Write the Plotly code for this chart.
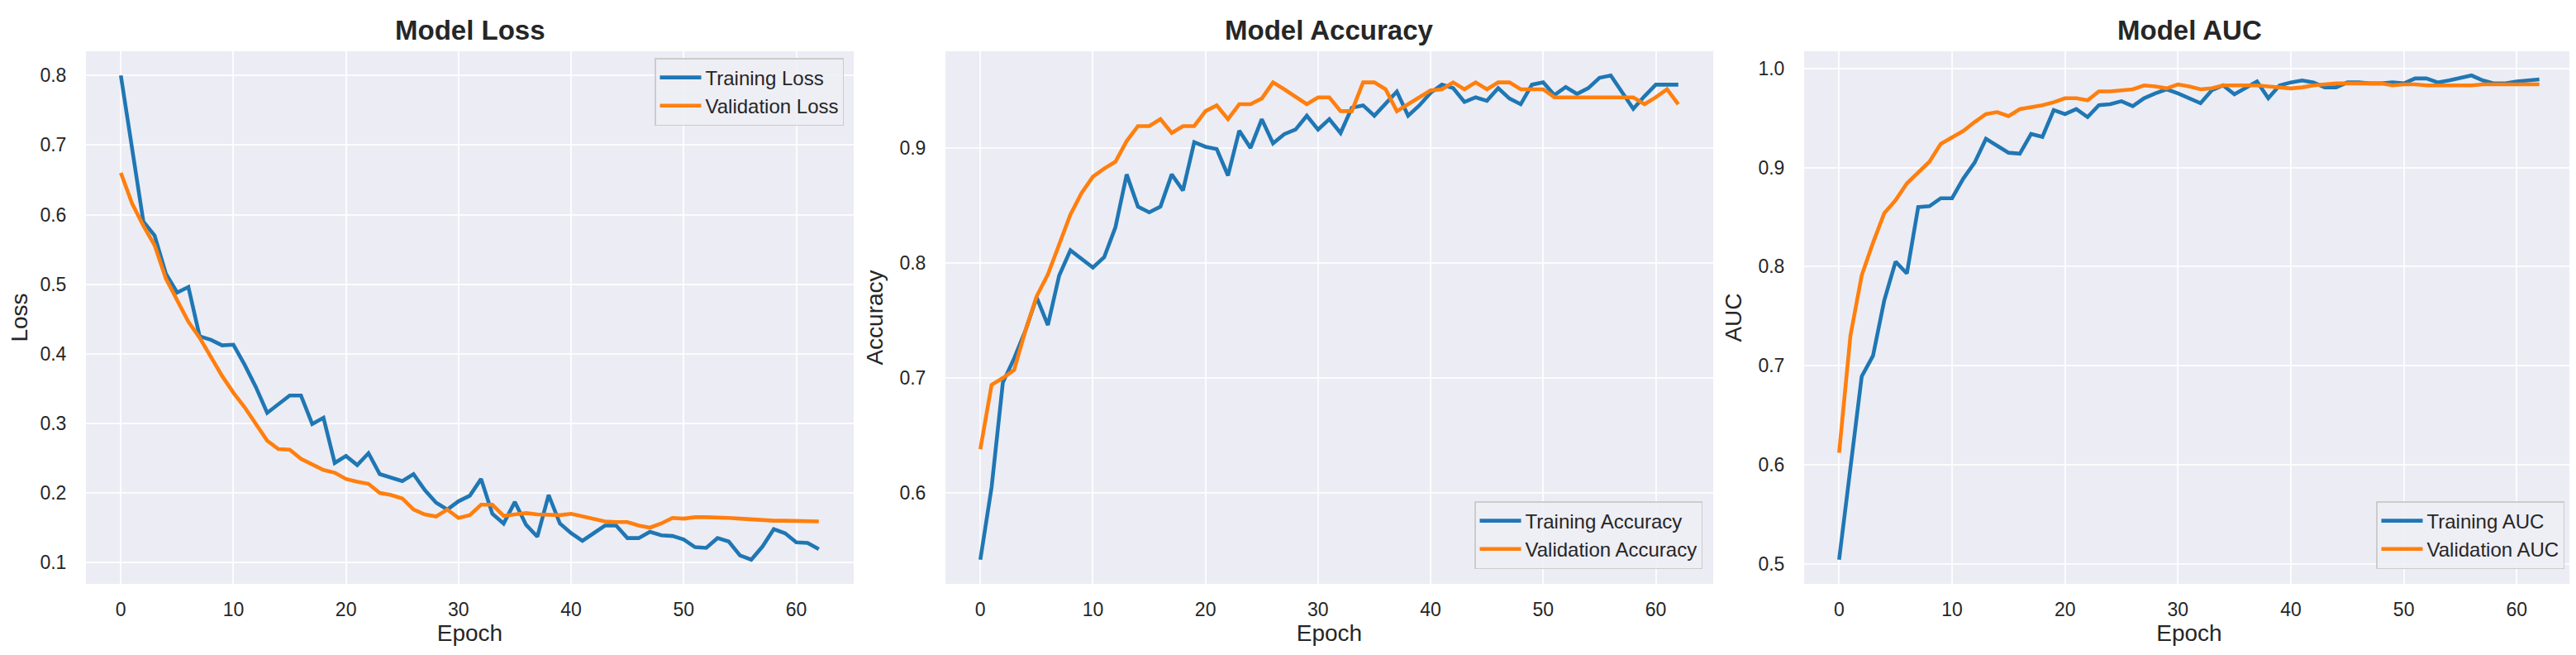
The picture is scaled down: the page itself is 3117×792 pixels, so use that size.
import plotly.graph_objects as go

epochs = list(range(63))

train_loss = [0.800, 0.699, 0.590, 0.570, 0.515, 0.488, 0.496, 0.425, 0.420, 0.412,
              0.413, 0.384, 0.352, 0.315, 0.327, 0.340, 0.340, 0.299, 0.308, 0.243,
              0.253, 0.240, 0.257, 0.227, 0.222, 0.217, 0.227, 0.204, 0.186, 0.176,
              0.188, 0.196, 0.220, 0.170, 0.156, 0.187, 0.154, 0.137, 0.197, 0.156,
              0.142, 0.131, 0.142, 0.153, 0.153, 0.135, 0.135, 0.144, 0.139, 0.138,
              0.133, 0.122, 0.121, 0.135, 0.130, 0.110, 0.104, 0.123, 0.148, 0.142,
              0.129, 0.128, 0.119]
val_loss = [0.660, 0.616, 0.584, 0.556, 0.508, 0.476, 0.446, 0.423, 0.396, 0.368,
            0.344, 0.323, 0.299, 0.275, 0.263, 0.262, 0.249, 0.241, 0.233, 0.229,
            0.220, 0.216, 0.213, 0.200, 0.197, 0.192, 0.176, 0.169, 0.166, 0.176,
            0.164, 0.168, 0.183, 0.183, 0.167, 0.169, 0.171, 0.169, 0.168, 0.168,
            0.170, 0.166, 0.162, 0.159, 0.158, 0.158, 0.153, 0.150, 0.156, 0.164,
            0.163, 0.165, 0.165, 0.165, 0.164, 0.163, 0.162, 0.160, 0.160, 0.160,
            0.160, 0.159, 0.159]

train_acc = [0.542, 0.605, 0.696, 0.717, 0.741, 0.770, 0.746, 0.789, 0.811, 0.804,
             0.796, 0.805, 0.831, 0.877, 0.849, 0.844, 0.849, 0.877, 0.863, 0.905,
             0.901, 0.899, 0.876, 0.915, 0.900, 0.925, 0.904, 0.912, 0.916, 0.928,
             0.916, 0.925, 0.913, 0.935, 0.937, 0.928, 0.939, 0.949, 0.928, 0.937,
             0.948, 0.955, 0.952, 0.940, 0.944, 0.941, 0.952, 0.943, 0.938, 0.955,
             0.957, 0.946, 0.953, 0.947, 0.952, 0.961, 0.963, 0.949, 0.934, 0.945,
             0.955, 0.955, 0.955]
val_acc = [0.638, 0.694, 0.700, 0.707, 0.741, 0.771, 0.790, 0.816, 0.842, 0.861,
           0.875, 0.882, 0.888, 0.906, 0.919, 0.919, 0.925, 0.913, 0.919, 0.919,
           0.932, 0.937, 0.925, 0.938, 0.938, 0.943, 0.957, 0.951, 0.944, 0.938,
           0.944, 0.944, 0.932, 0.932, 0.957, 0.957, 0.951, 0.932, 0.938, 0.944,
           0.950, 0.951, 0.957, 0.951, 0.957, 0.951, 0.957, 0.957, 0.951, 0.951,
           0.951, 0.944, 0.944, 0.944, 0.944, 0.944, 0.944, 0.944, 0.944, 0.938,
           0.944, 0.951, 0.938]

train_auc = [0.504, 0.597, 0.689, 0.710, 0.766, 0.805, 0.793, 0.860, 0.861, 0.869,
             0.869, 0.889, 0.905, 0.929, 0.922, 0.915, 0.914, 0.934, 0.931, 0.958,
             0.954, 0.959, 0.951, 0.963, 0.964, 0.967, 0.962, 0.970, 0.975, 0.979,
             0.975, 0.970, 0.965, 0.978, 0.983, 0.974, 0.981, 0.987, 0.970, 0.983,
             0.986, 0.988, 0.986, 0.981, 0.981, 0.986, 0.986, 0.985, 0.985, 0.986,
             0.985, 0.990, 0.990, 0.986, 0.988, 0.991, 0.993, 0.988, 0.985, 0.985,
             0.987, 0.988, 0.989]
val_auc = [0.612, 0.730, 0.791, 0.824, 0.854, 0.867, 0.884, 0.895, 0.906, 0.924,
           0.930, 0.937, 0.946, 0.954, 0.956, 0.952, 0.959, 0.961, 0.963, 0.966,
           0.970, 0.970, 0.968, 0.977, 0.977, 0.978, 0.979, 0.983, 0.982, 0.980,
           0.984, 0.982, 0.979, 0.980, 0.983, 0.983, 0.983, 0.983, 0.982, 0.981,
           0.980, 0.981, 0.983, 0.984, 0.985, 0.985, 0.985, 0.985, 0.985, 0.983,
           0.984, 0.984, 0.983, 0.983, 0.983, 0.983, 0.983, 0.984, 0.984, 0.984,
           0.984, 0.984, 0.984]

titles = ["Model Loss", "Model Accuracy", "Model AUC"]
ylabels = ["Loss", "Accuracy", "AUC"]
train_names = ["Training Loss", "Training Accuracy", "Training AUC"]
val_names = ["Validation Loss", "Validation Accuracy", "Validation AUC"]
loss_ticks = [0.1, 0.2, 0.3, 0.4, 0.5, 0.6, 0.7, 0.8]
acc_ticks = [0.6, 0.7, 0.8, 0.9]
auc_ticks = [0.5, 0.6, 0.7, 0.8, 0.9, 1.0]
x_ticks = [0, 10, 20, 30, 40, 50, 60]

W, H = 3117, 792
BLUE = "#1f77b4"
ORANGE = "#ff7f0e"
BG = "#ECECF4"
GRID = "rgba(255,255,255,0.85)"
TXT = "#262626"
FONT = "Liberation Sans, Arial, sans-serif"

panels = [
    (train_loss, val_loss, loss_ticks, (96, 1025)),
    (train_acc, val_acc, acc_ticks, (1136, 2065)),
    (train_auc, val_auc, auc_ticks, (2175, 3107)),
]
y_top_px, y_bot_px = 54, 698
ydom = [(H - y_bot_px) / H, (H - y_top_px) / H]


def padded(vals, frac=0.05):
    lo, hi = min(vals), max(vals)
    m = (hi - lo) * frac
    return [lo - m, hi + m]


fig = go.Figure()
legend_names = ["legend", "legend2", "legend3"]
layout = {}
annotations = []
for i, (tr, va, yt, (x0, x1)) in enumerate(panels):
    sfx = "" if i == 0 else str(i + 1)
    xa, ya = "x" + sfx, "y" + sfx
    fig.add_trace(go.Scatter(x=epochs, y=tr, mode="lines", name=train_names[i],
                             line=dict(color=BLUE, width=4.6), xaxis=xa, yaxis=ya,
                             legend=legend_names[i]))
    fig.add_trace(go.Scatter(x=epochs, y=va, mode="lines", name=val_names[i],
                             line=dict(color=ORANGE, width=4.6), xaxis=xa, yaxis=ya,
                             legend=legend_names[i]))
    layout["xaxis" + sfx] = dict(
        domain=[x0 / W, x1 / W], anchor=ya, range=padded(epochs), automargin=False,
        tickvals=x_ticks, showgrid=True, gridcolor=GRID, gridwidth=1.6,
        zeroline=False, showline=True, linecolor="white", linewidth=2, mirror=True,
        ticks="outside", ticklen=9, tickcolor="rgba(0,0,0,0)",
        tickfont=dict(size=23, color=TXT, family=FONT),
        title=dict(text="Epoch", font=dict(size=28, color=TXT, family=FONT), standoff=6),
    )
    layout["yaxis" + sfx] = dict(
        domain=ydom, anchor=xa, range=padded(tr + va), automargin=False,
        tickvals=yt, tickformat=".1f", showgrid=True, gridcolor=GRID, gridwidth=1.6,
        zeroline=False, showline=True, linecolor="white", linewidth=2, mirror=True,
        ticks="outside", ticklen=17, tickcolor="rgba(0,0,0,0)",
        tickfont=dict(size=23, color=TXT, family=FONT),
        title=dict(text=ylabels[i], font=dict(size=28, color=TXT, family=FONT), standoff=12),
    )
    annotations.append(dict(
        text="<b>" + titles[i] + "</b>", xref="paper", yref="paper",
        x=(x0 + x1) / 2 / W, y=(H - 28) / H, xanchor="center", yanchor="middle",
        showarrow=False, font=dict(size=33, color=TXT, family=FONT)))

leg_common = dict(bgcolor="rgba(238,238,245,0.9)", bordercolor="#CCCCCC", borderwidth=1.5,
                  font=dict(size=24, color=TXT, family=FONT), xref="paper", yref="paper",
                  tracegroupgap=0, itemwidth=50)
layout["legend"] = dict(leg_common, x=1013 / W, y=(H - 62) / H, xanchor="right", yanchor="top")
layout["legend2"] = dict(leg_common, x=2052 / W, y=(H - 680) / H, xanchor="right", yanchor="bottom")
layout["legend3"] = dict(leg_common, x=3095 / W, y=(H - 680) / H, xanchor="right", yanchor="bottom")

fig.update_layout(
    width=W, height=H, margin=dict(l=0, r=0, t=0, b=0, autoexpand=False),
    paper_bgcolor="white", plot_bgcolor=BG,
    font=dict(family=FONT, color=TXT),
    annotations=annotations, showlegend=True,
    **layout,
)
fig.write_html("out.html")
